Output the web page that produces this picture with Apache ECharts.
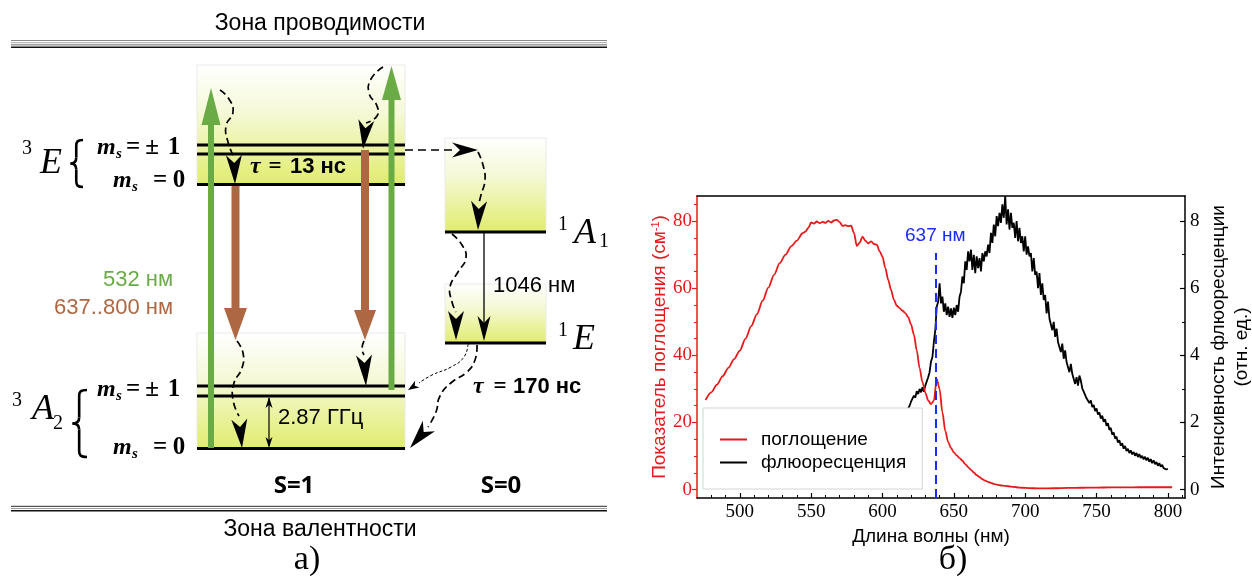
<!DOCTYPE html>
<html>
<head>
<meta charset="utf-8">
<title>NV-центр: схема уровней и спектры</title>
<script src="https://cdn.jsdelivr.net/npm/echarts@6/dist/echarts.min.js"></script>
<style>
  html, body { margin: 0; padding: 0; background: #fff; }
  #chart { width: 1252px; height: 576px; }
</style>
</head>
<body>
<div id="chart"></div>
<script>
// ---------- spectra ----------
// Absorption coefficient (cm^-1) at the listed wavelengths (nm)
const absWavelength = [
  476, 480, 484, 488, 492, 496, 500, 504, 508, 512, 516, 520, 524, 528, 532, 536, 540, 544, 546, 548,
  550, 552, 554, 556, 558, 560, 562, 564, 566, 568, 570, 572, 574, 576, 578, 580, 582, 584, 586, 588,
  590, 592, 594, 596, 598, 600, 602, 604, 606, 608, 610, 612, 614, 616, 618, 620, 622, 624, 626, 628,
  630, 632, 634, 636, 638, 640, 642, 644, 646, 648, 650, 652, 654, 656, 658, 660, 662, 664, 666, 668,
  670, 672, 674, 676, 678, 680, 684, 688, 692, 696, 700, 706, 712, 720, 730, 740, 750, 760, 770, 780,
  790, 803
];
const absValue = [
  26.7, 29.0, 31.3, 33.8, 36.3, 38.9, 41.4, 45.0, 48.7, 52.3, 56.3, 60.2, 64.0, 67.5, 70.0, 72.5, 74.2, 76.4, 76.9, 78.0,
  79.6, 79.3, 79.9, 79.4, 79.8, 79.5, 80.1, 79.6, 80.2, 80.4, 79.7, 78.6, 78.8, 78.5, 78.7, 76.5, 72.6, 73.6, 75.4, 74.2,
  73.4, 74.0, 73.2, 73.0, 71.0, 69.4, 66.0, 62.5, 59.5, 56.6, 54.8, 54.1, 53.3, 52.6, 51.4, 49.2, 46.2, 41.5, 36.2, 32.0,
  28.9, 26.6, 25.5, 26.5, 33.0, 30.0, 23.0, 17.5, 14.2, 12.4, 11.1, 10.2, 9.4, 8.6, 7.6, 6.7, 5.9, 5.1, 4.3, 3.7,
  3.1, 2.7, 2.3, 2.0, 1.7, 1.5, 1.2, 1.0, 0.8, 0.6, 0.5, 0.4, 0.35, 0.4, 0.5, 0.55, 0.6, 0.65, 0.65, 0.7,
  0.7, 0.7
];

// Fluorescence intensity (arb. units), one reading per nm from flStart
const flStart = 605;
const flValue = [
  1.55, 1.68, 1.62, 1.78, 1.74, 1.90, 1.83, 1.98, 1.95, 2.12,   // 605-614
  2.05, 2.22, 2.30, 2.42, 2.50, 2.62, 2.58, 2.80, 2.74, 2.93,   // 615-624
  2.85, 3.00, 2.90, 3.05, 2.92, 3.10, 3.15, 3.35, 3.50, 3.82,   // 625-634
  3.95, 4.40, 4.75, 5.45, 5.60, 6.15, 5.55, 5.75, 5.30, 5.55,   // 635-644
  5.20, 5.45, 5.15, 5.40, 5.12, 5.42, 5.20, 5.50, 5.30, 5.75,   // 645-654
  5.90, 6.35, 6.15, 6.80, 6.55, 7.10, 6.80, 7.15, 6.55, 7.00,   // 655-664
  6.45, 6.95, 6.60, 6.90, 6.50, 7.05, 6.80, 7.10, 6.95, 7.30,   // 665-674
  7.05, 7.65, 7.35, 7.90, 7.55, 8.15, 7.85, 8.25, 7.95, 8.50,   // 675-684
  8.10, 8.75, 7.90, 8.35, 7.75, 8.25, 7.80, 7.95, 7.50, 8.00,   // 685-694
  7.40, 7.80, 7.35, 7.55, 7.10, 7.55, 7.00, 7.25, 6.95, 7.05,   // 695-704
  6.50, 6.90, 6.40, 6.50, 6.00, 6.45, 5.80, 6.15, 5.65, 5.80,   // 705-714
  5.25, 5.60, 5.10, 5.15, 4.75, 5.00, 4.55, 4.80, 4.40, 4.45,   // 715-724
  4.10, 4.35, 3.90, 4.15, 3.80, 3.85, 3.50, 3.75, 3.45, 3.45,   // 725-734
  3.15, 3.35, 3.10, 3.40, 3.25, 3.02, 2.92, 2.90, 2.72, 2.74,   // 735-744
  2.58, 2.66, 2.46, 2.52, 2.34, 2.42, 2.24, 2.30, 2.12, 2.20,   // 745-754
  2.02, 2.10, 1.90, 1.98, 1.78, 1.84, 1.64, 1.70, 1.52, 1.58,   // 755-764
  1.40, 1.47, 1.31, 1.38, 1.22, 1.30, 1.15, 1.22, 1.09, 1.17,   // 765-774
  1.05, 1.12, 1.01, 1.09, 0.97, 1.06, 0.94, 1.01, 0.90, 0.98,   // 775-784
  0.87, 0.95, 0.83, 0.91, 0.79, 0.87, 0.76, 0.82, 0.71, 0.79,   // 785-794
  0.68, 0.74, 0.64, 0.69, 0.60, 0.62                            // 795-800
];

// Zero-phonon line of NV-
const zplWavelength = 637;

// Axis ticks
const xMajorTicks = [500, 550, 600, 650, 700, 750, 800];
const xMinorTicks = [480, 490, 510, 520, 530, 540, 560, 570, 580, 590, 610, 620, 630, 640, 660, 670, 680, 690,
                     710, 720, 730, 740, 760, 770, 780, 790, 810];
const absTicks = [0, 20, 40, 60, 80];
const absMinorTicks = [5, 10, 15, 25, 30, 35, 45, 50, 55, 65, 70, 75, 85];
const flTicks = [0, 2, 4, 6, 8];
const flMinorTicks = [1, 3, 5, 7];

// ---------- styling ----------
const RED = '#e8191a';
const BLUE = '#1a2cff';
const GREEN = '#6aab46';
const BROWN = '#ad6843';
const INK = '#000';
const SANS = "'Liberation Sans', Arial, sans-serif";
const SERIF = "'Liberation Serif', 'Times New Roman', serif";
const BOLD = "'Open Sans', 'Liberation Sans', sans-serif";

// ---------- energy level diagram ----------
const g = [];
const add = el => { el.silent = true; g.push(el); };

function seg(x1, y1, x2, y2, w, c, dash) {
  add({ type: 'line', shape: { x1, y1, x2, y2 },
        style: { stroke: c || INK, lineWidth: w, lineDash: dash || null } });
}
function txt(x, y, s, font, fill, align) {
  add({ type: 'text', x, y,
        style: { text: s, font, fill: fill || INK,
                 textAlign: align || 'left', textVerticalAlign: 'middle',
                 align: align || 'left', verticalAlign: 'middle' } });
}
function levelBox(x, y, w, h) {
  add({ type: 'rect', shape: { x, y, width: w, height: h },
        style: { fill: { type: 'linear', x: 0, y: 0, x2: 0, y2: 1,
                         colorStops: [{ offset: 0, color: '#ffffff' },
                                      { offset: 0.4, color: '#f5f9d6' },
                                      { offset: 1, color: '#e0ec6c' }] },
                 stroke: '#eaeaea', lineWidth: 1 } });
}
// Concave ("stealth") arrow head
function stealth(from, tip, len, wid, notch) {
  const dx = tip[0] - from[0], dy = tip[1] - from[1], d = Math.hypot(dx, dy);
  const ux = dx / d, uy = dy / d, px = -uy, py = ux;
  const bx = tip[0] - ux * len, by = tip[1] - uy * len;
  const nx = tip[0] - ux * (len - notch), ny = tip[1] - uy * (len - notch);
  add({ type: 'polygon',
        shape: { points: [tip, [bx + px * wid / 2, by + py * wid / 2], [nx, ny], [bx - px * wid / 2, by - py * wid / 2]] },
        style: { fill: INK } });
}
// Dashed non-radiative path ending in a stealth head
function wave(points, tip, o) {
  o = o || {};
  add({ type: 'polyline', shape: { points, smooth: 0.5 },
        style: { stroke: INK, lineWidth: o.lw || 1.7, lineDash: o.dash || [7, 4], fill: null } });
  stealth(points[points.length - 1], tip, o.len || 29, o.wid || 16, o.notch || 8);
}
// Optical transition arrow (thick shaft + triangular head)
function fatArrow(x, yTail, yTip, shaftW, headLen, headW, color) {
  const dir = yTip < yTail ? -1 : 1;
  const yBase = yTip - dir * headLen;
  add({ type: 'rect', shape: { x: x - shaftW / 2, y: Math.min(yTail, yBase), width: shaftW, height: Math.abs(yBase - yTail) },
        style: { fill: color } });
  add({ type: 'polygon', shape: { points: [[x, yTip], [x - headW / 2, yBase], [x + headW / 2, yBase]] },
        style: { fill: color } });
}
// Curly brace opening to the right: x of tip, x of arm ends, top, bottom
function brace(xTip, xEnd, yTop, yBot) {
  const xs = xTip + (xEnd - xTip) * 0.46;          // spine
  const yMid = (yTop + yBot) / 2;
  const r = 6;
  const st = { stroke: INK, lineWidth: 2.6, fill: null };
  const bz = (x1, y1, cpx1, cpy1, cpx2, cpy2, x2, y2) =>
    add({ type: 'bezierCurve', shape: { x1, y1, cpx1, cpy1, cpx2, cpy2, x2, y2 }, style: st });
  bz(xEnd, yTop, xs + 1, yTop, xs, yTop + 2, xs, yTop + r);
  seg(xs, yTop + r, xs, yMid - r, 2.6);
  bz(xs, yMid - r, xs, yMid - 2, xs - 2, yMid, xTip, yMid);
  bz(xTip, yMid, xs - 2, yMid, xs, yMid + 2, xs, yMid + r);
  seg(xs, yMid + r, xs, yBot - r, 2.6);
  bz(xs, yBot - r, xs, yBot - 2, xs + 1, yBot, xEnd, yBot);
}
// Spin projection label "m_s = value", right edge at x ≈ 186
function msLabel(y, val) {
  const mFont = 'italic bold 24px ' + SERIF;
  const sFont = 'italic bold 15px ' + SERIF;
  const eFont = 'bold 25px ' + SERIF;
  if (val === '0') {
    txt(113, y, 'm', mFont);
    txt(132, y + 6, 's', sFont);
    txt(160, y, '=', eFont, INK, 'center');
    txt(179, y, '0', eFont, INK, 'center');
  } else {
    txt(97, y, 'm', mFont);
    txt(116, y + 6, 's', sFont);
    txt(133, y, '=', eFont, INK, 'center');
    txt(152, y, '\u00b1', eFont, INK, 'center');
    txt(174, y, '1', eFont, INK, 'center');
  }
}

// band edges
[[40.5, '#8a8a8a', 1], [42.7, '#a5a5a5', 1], [44.9, '#6a6a6a', 1], [47.3, '#111', 1.4]]
  .forEach(([y, c, w]) => seg(11, y, 607, y, w, c));
[[506.3, '#555', 1.2], [508.5, '#a0a0a0', 1], [510.7, '#111', 1.4]]
  .forEach(([y, c, w]) => seg(11, y, 607, y, w, c));
txt(320, 24, 'Зона проводимости', '23px ' + SANS, INK, 'center');
txt(320, 530, 'Зона валентности', '23px ' + SANS, INK, 'center');
txt(307, 560, 'а)', '34px ' + SERIF, INK, 'center');

// level blocks
levelBox(197, 65, 208, 120);   // 3E
levelBox(197, 333, 208, 116);  // 3A2
levelBox(445, 138, 101, 94);   // 1A1
levelBox(445, 284, 101, 59);   // 1E

[145, 154, 184.5].forEach(y => seg(197, y, 405, y, 3));
[386, 396, 448.5].forEach(y => seg(197, y, 405, y, 3));
seg(445, 232, 546, 232, 3);
seg(445, 343, 546, 343, 3);

// optical pumping (green) and emission (brown)
fatArrow(211, 448, 88, 6, 37, 19, GREEN);
fatArrow(391.5, 390, 66, 6, 34, 19, GREEN);
fatArrow(235.5, 186, 340, 8, 32, 23, BROWN);
fatArrow(365, 150, 340, 8, 30, 22, BROWN);

// non-radiative relaxation
wave([[220, 90], [229, 99], [233, 112], [226, 126], [228, 142], [234, 157]], [235, 184]);
wave([[383, 67], [371, 79], [369, 93], [377, 106], [377, 116], [366, 123]], [363, 149]);
seg(405, 150, 455, 150, 1.7, INK, [8, 5]);
stealth([455, 150], [478, 150], 26, 15, 8);
wave([[478, 152], [483, 165], [485, 180], [481, 195], [479, 203]], [478, 230]);
wave([[452, 234], [462, 245], [466, 258], [458, 272], [450, 287], [452, 302], [456, 312]], [456, 340]);
wave([[237, 341], [243, 353], [242, 368], [234, 383], [233, 400], [239, 416]], [242, 448]);
wave([[364, 341], [362, 349], [364, 355]], [366, 386], { len: 31 });
// intersystem crossing from 1E
add({ type: 'polyline', shape: { points: [[468, 344], [464, 357], [451, 367], [432, 375], [419, 383]], smooth: 0.5 },
      style: { stroke: INK, lineWidth: 1, lineDash: [3, 2], fill: null } });
stealth([419, 383], [408, 390], 11, 8, 3);
wave([[477, 345], [475, 360], [467, 372], [452, 382], [440, 396], [436, 412], [428, 427]], [410, 448]);

// 1A1 -> 1E radiative line
seg(484, 232, 484, 330, 1.3);
stealth([484, 316], [484, 341], 25, 13, 7);
txt(493, 286, '1046 нм', '22px ' + SANS);

// zero-field splitting of the ground state
seg(269, 398, 269, 446, 1.2);
stealth([269, 410], [269, 397], 11, 7, 3);
stealth([269, 436], [269, 448], 11, 7, 3);
txt(278, 418, '2.87 ГГц', '22px ' + SANS);

// state labels
txt(27, 149, '3', '20px ' + SERIF, INK, 'center');
txt(51, 164, 'E', 'italic 36px ' + SERIF, INK, 'center');
brace(70.5, 83, 140, 187);
msLabel(148, '\u00b11');
msLabel(181, '0');

txt(17, 401, '3', '20px ' + SERIF, INK, 'center');
txt(43, 410, 'A', 'italic 36px ' + SERIF, INK, 'center');
txt(58, 424, '2', '20px ' + SERIF, INK, 'center');
brace(72.5, 87, 390, 457);
msLabel(390, '\u00b11');
msLabel(448, '0');

txt(563, 225, '1', '20px ' + SERIF, INK, 'center');
txt(585, 234, 'A', 'italic 36px ' + SERIF, INK, 'center');
txt(604, 242, '1', '20px ' + SERIF, INK, 'center');
txt(563, 331, '1', '20px ' + SERIF, INK, 'center');
txt(584, 340, 'E', 'italic 36px ' + SERIF, INK, 'center');

// lifetimes
txt(250, 167, '\u03c4', 'italic bold 24px ' + SERIF);
txt(275, 167, '=', 'bold 23px ' + SERIF, INK, 'center');
txt(290, 167, '13 нс', 'bold 22px ' + SANS);
txt(473, 387, '\u03c4', 'italic bold 24px ' + SERIF);
txt(500, 387, '=', 'bold 23px ' + SERIF, INK, 'center');
txt(513, 387, '170 нс', 'bold 22px ' + SANS);

// wavelengths of the transitions
txt(173, 280, '532 нм', '22px ' + SANS, GREEN, 'right');
txt(173, 308, '637..800 нм', '22px ' + SANS, BROWN, 'right');

// spin manifolds
txt(294, 486, 'S=1', 'bold 24px ' + BOLD, INK, 'center');
txt(501, 486, 'S=0', 'bold 24px ' + BOLD, INK, 'center');

// panel label of the spectra
txt(953, 560, 'б)', '34px ' + SERIF, INK, 'center');

// ---------- chart ----------
const absData = absWavelength.map((w, i) => [w, absValue[i]]);
const flData = flValue.map((v, i) => [flStart + i, v]);

const X_MIN = 470, X_MAX = 812;
const ABS_MIN = -2.5, ABS_MAX = 87.5;
const FL_MIN = -0.25, FL_MAX = 8.75;

function xAxisBase(extra) {
  return Object.assign({
    type: 'value', min: X_MIN, max: X_MAX, gridIndex: 0,
    splitLine: { show: false }
  }, extra);
}
function yAxisBase(extra) {
  return Object.assign({ type: 'value', gridIndex: 0, splitLine: { show: false } }, extra);
}

const chart = echarts.init(document.getElementById('chart'), null, { renderer: 'canvas' });
chart.setOption({
  animation: false,
  backgroundColor: '#fff',
  graphic: { elements: g },
  grid: { left: 697, right: 67, top: 196, bottom: 78, containLabel: false, outerBoundsMode: 'none' },
  legend: {
    data: ['поглощение', 'флюоресценция'],
    orient: 'vertical',
    left: 703, top: 408,
    padding: [22, 16, 17, 17],
    itemGap: 4,
    itemWidth: 36, itemHeight: 2,
    icon: 'path://M0,0H27V2H0Z M36,0L36,2',
    backgroundColor: '#fff',
    borderColor: '#d4d4d4', borderWidth: 1, borderRadius: 0,
    textStyle: { fontFamily: SANS, fontSize: 19, color: INK },
    selectedMode: false
  },
  xAxis: [
    xAxisBase({
      position: 'bottom',
      axisLine: { onZero: false, lineStyle: { color: INK, width: 1.5 } },
      axisTick: { inside: true, length: 5, customValues: xMajorTicks, lineStyle: { color: INK, width: 1.2 } },
      axisLabel: { customValues: xMajorTicks, color: INK, fontFamily: SERIF, fontSize: 19, margin: 5 },
      name: 'Длина волны (нм)', nameLocation: 'middle', nameGap: 21,
      nameTextStyle: { fontFamily: SANS, fontSize: 19, color: INK, padding: [0, 20, 0, 0] }
    }),
    xAxisBase({
      position: 'bottom',
      axisLine: { show: false, onZero: false },
      axisTick: { inside: true, length: 3, customValues: xMinorTicks, lineStyle: { color: INK, width: 1 } },
      axisLabel: { show: false }
    }),
    xAxisBase({
      position: 'top',
      axisLine: { onZero: false, lineStyle: { color: INK, width: 1.5 } },
      axisTick: { show: false }, axisLabel: { show: false }
    })
  ],
  yAxis: [
    yAxisBase({
      position: 'left', min: ABS_MIN, max: ABS_MAX,
      axisLine: { onZero: false, lineStyle: { color: RED, width: 1.5 } },
      axisTick: { inside: false, length: 5, customValues: absTicks, lineStyle: { color: RED, width: 1.2 } },
      axisLabel: { customValues: absTicks, color: RED, fontFamily: SERIF, fontSize: 19, margin: 5 },
      name: 'Показатель поглощения (см{sup|-1})', nameLocation: 'middle', nameGap: 22,
      nameTextStyle: { fontFamily: SANS, fontSize: 19, color: RED,
                       rich: { sup: { fontFamily: SANS, fontSize: 11, color: RED, verticalAlign: 'top' } } }
    }),
    yAxisBase({
      position: 'left', min: ABS_MIN, max: ABS_MAX,
      axisLine: { show: false, onZero: false },
      axisTick: { inside: false, length: 3, customValues: absMinorTicks, lineStyle: { color: RED, width: 1 } },
      axisLabel: { show: false }
    }),
    yAxisBase({
      position: 'right', min: FL_MIN, max: FL_MAX,
      axisLine: { onZero: false, lineStyle: { color: INK, width: 1.5 } },
      axisTick: { inside: true, length: 5, customValues: flTicks, lineStyle: { color: INK, width: 1.2 } },
      axisLabel: { customValues: flTicks, color: INK, fontFamily: SERIF, fontSize: 19, margin: 5 },
      name: 'Интенсивность флюоресценции\n(отн. ед.)', nameLocation: 'middle', nameGap: 22,
      nameTextStyle: { fontFamily: SANS, fontSize: 19, color: INK, lineHeight: 23 }
    }),
    yAxisBase({
      position: 'right', min: FL_MIN, max: FL_MAX,
      axisLine: { show: false, onZero: false },
      axisTick: { inside: true, length: 3, customValues: flMinorTicks, lineStyle: { color: INK, width: 1 } },
      axisLabel: { show: false }
    })
  ],
  series: [
    {
      name: 'флюоресценция', type: 'line', xAxisIndex: 0, yAxisIndex: 2,
      data: flData, symbol: 'none', z: 2,
      lineStyle: { color: INK, width: 1.8 }, itemStyle: { color: INK }
    },
    {
      name: 'поглощение', type: 'line', xAxisIndex: 0, yAxisIndex: 0,
      data: absData, symbol: 'none', z: 3, smooth: 0.3, smoothMonotone: 'x',
      lineStyle: { color: RED, width: 1.8 }, itemStyle: { color: RED },
      markLine: {
        silent: true, symbol: ['none', 'none'],
        lineStyle: { color: BLUE, width: 2, type: [9, 5] },
        label: { show: true, position: 'end', formatter: zplWavelength + ' нм',
                 color: BLUE, fontFamily: SANS, fontSize: 19, distance: 8 },
        data: [[{ coord: [zplWavelength, ABS_MIN] }, { coord: [zplWavelength, 70.5] }]]
      }
    }
  ]
});
</script>
</body>
</html>
